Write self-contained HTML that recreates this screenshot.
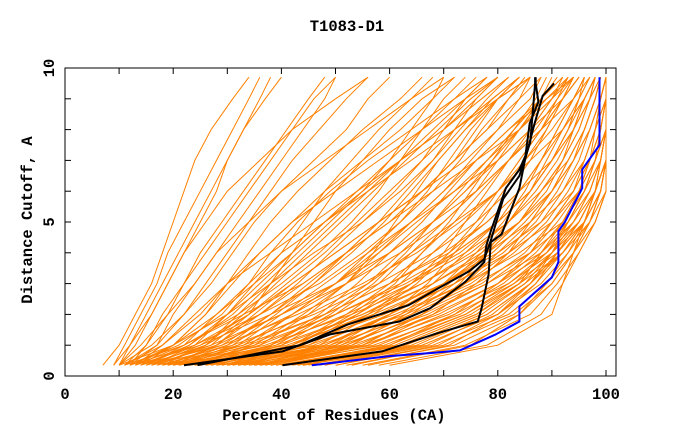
<!DOCTYPE html>
<html><head><meta charset="utf-8"><style>
body{margin:0;background:#fff}
svg{display:block}
text{font-family:"Liberation Mono",monospace;font-weight:bold;font-size:15.5px;fill:#000}
</style></head><body>
<svg id="chart" width="680" height="440" viewBox="0 0 680 440" xmlns="http://www.w3.org/2000/svg">
<text x="347" y="31" text-anchor="middle">T1083-D1</text>
<rect x="65" y="68" width="551" height="308" fill="none" stroke="#000" stroke-width="1"/>
<g id="series"></g>
<g id="axes"></g>
<text x="334" y="420" text-anchor="middle">Percent of Residues (CA)</text>
<text transform="translate(32,220) rotate(-90)" text-anchor="middle">Distance Cutoff, A</text>
</svg>
<script>
const yLevels=[0.35,1,2,3,4,5,6,7,8,9,9.7];
const orangeCurves=[
[7,10,13,16,18,20,22,24,27,31,34],[9,12,16,19,22,25,28,30,33,36,38],[10,14,19,24,28,32,36,40,44,48,50],
[10,16,22,27,31,35,40,46,52,56,60],[11,18,25,30,36,42,48,55,62,68,70],[12,20,28,35,42,48,55,62,70,77,82],
[13,22,32,40,47,53,58,62,66,70,74],[14,24,34,42,50,58,66,74,80,86,88],[15,26,36,44,52,60,68,76,84,90,92],
[16,28,40,50,58,65,72,78,84,88,90],[17,27,34,38,42,46,50,55,60,66,72],[18,30,42,52,60,68,76,82,88,92,95],
[19,32,45,56,64,72,80,86,92,96,98],[20,30,38,45,52,60,66,72,78,84,88],[21,34,48,60,70,78,84,90,94,97,99],
[22,36,50,62,72,80,86,90,93,95,96],[23,38,52,64,74,82,88,93,96,98,99],[24,35,44,52,58,64,70,76,82,88,92],
[25,40,55,66,76,84,90,94,97,99,100],[26,42,56,68,78,86,92,96,98,100,100],[27,44,58,70,80,88,94,97,99,100,100],
[28,40,50,58,64,70,76,82,88,94,97],[29,46,60,72,82,90,95,98,100,100,100],[30,48,62,74,84,92,96,99,100,100,100],
[31,45,56,64,70,74,78,82,86,90,93],[32,50,64,76,86,93,97,99,100,100,100],[33,52,66,78,88,94,98,100,100,100,100],
[34,50,60,68,74,80,84,88,92,96,98],[35,54,68,80,89,95,98,100,100,100,100],[36,56,70,82,90,96,99,100,100,100,100],
[37,55,66,74,80,86,90,94,96,98,99],[38,58,72,83,91,96,99,100,100,100,100],[40,60,74,84,92,97,100,100,100,100,100],
[42,62,76,85,92,96,98,99,100,100,100],[44,64,78,86,92,96,98,100,100,100,100],[46,66,80,88,93,97,99,100,100,100,100],
[48,68,82,89,94,97,99,100,100,100,100],[50,70,83,90,94,97,99,100,100,100,100],[52,72,84,90,94,98,100,100,100,100,100],
[55,74,86,91,95,98,100,100,100,100,100],[58,78,88,92,95,98,100,100,100,100,100],[60,80,90,92,94,96,98,100,100,100,100],
[12,17,20,24,28,34,40,48,56,64,70],[15,22,28,34,40,48,56,64,72,80,86],[18,26,32,38,44,50,56,62,68,74,78],
[22,32,40,48,56,64,72,80,86,92,95],[25,38,48,56,62,68,74,80,86,90,94],[28,42,54,64,72,80,86,90,94,97,98],
[32,48,60,70,78,84,88,92,94,96,98],[36,52,64,72,78,84,88,92,95,97,99],[11,15,18,22,26,30,34,38,42,46,50],
[14,20,26,31,36,42,50,58,66,74,80],[20,28,35,42,50,58,66,72,76,80,84],[24,34,42,50,57,64,70,75,80,84,86],
[30,44,54,62,68,74,80,85,90,94,96],[38,56,68,76,82,86,90,93,96,98,99],[45,60,72,80,86,90,94,96,98,99,100],
[16,24,30,36,42,48,54,60,66,72,76],[10,13,16,19,22,26,30,36,42,50,56],[13,18,24,30,38,46,54,62,70,76,80],
[10,20,30,38,46,55,62,68,72,76,80],[11,22,33,44,52,58,66,72,78,82,86],[12,24,36,47,55,62,68,73,77,82,85],
[13,25,38,50,60,68,74,79,83,87,89],[14,27,40,52,62,70,76,80,84,88,91],[15,29,43,55,65,73,80,84,88,91,93],
[16,31,46,58,68,76,82,86,89,92,94],[17,33,48,60,71,78,84,88,91,94,96],[18,35,50,63,73,80,86,90,93,95,97],
[19,37,53,66,75,82,87,91,94,96,98],[20,39,55,68,77,84,89,92,95,97,98],[21,41,57,70,79,85,90,93,96,98,99],
[22,43,59,72,81,87,91,94,97,99,100],[23,45,61,74,82,88,92,95,97,99,100],[24,47,63,75,83,89,93,96,98,99,100],
[26,49,65,77,85,90,94,97,98,100,100],[28,51,67,78,86,91,95,97,99,100,100],[30,53,69,80,87,92,95,98,99,100,100],
[32,55,71,81,88,93,96,98,100,100,100],[34,57,73,82,89,93,96,98,100,100,100],[36,59,74,83,89,94,97,99,100,100,100],
[39,61,75,84,90,94,97,99,100,100,100],[41,63,77,85,90,95,98,99,100,100,100],[43,65,78,86,91,95,98,100,100,100,100],
[47,67,79,86,91,95,98,100,100,100,100],[53,71,81,87,92,96,98,100,100,100,100],[56,75,84,89,93,96,99,100,100,100,100],
[12,21,29,34,38,43,49,56,64,72,78],[14,23,31,37,43,49,55,60,64,68,72],[16,25,34,41,48,54,60,66,72,79,84],
[18,29,38,46,53,59,64,69,74,79,84],[20,33,42,50,56,62,67,71,75,80,84],[23,36,45,52,57,61,65,69,74,80,86],
[26,39,49,57,63,68,73,78,83,88,92],[27,38,47,54,60,66,71,76,82,89,94],[29,43,53,61,66,71,75,79,84,89,93],
[33,47,57,65,71,76,80,84,88,92,95],[35,51,62,70,76,81,85,88,91,94,96],[37,53,63,71,77,82,86,89,92,95,97],
[19,28,36,43,49,55,61,66,70,74,78],[21,31,39,46,52,58,63,68,73,78,82],[17,26,33,39,45,51,57,63,69,75,80],
[15,23,30,35,40,44,48,53,58,64,68],[13,20,26,30,34,38,43,49,55,62,66],[11,17,22,26,30,34,38,42,47,52,56],
[9,11,14,17,19,22,25,28,31,34,36],[10,12,15,18,21,24,27,30,33,37,40],[12,15,19,22,25,29,33,37,41,45,48],
[44,66,80,87,91,96,98,100,100,100,100],[40,62,76,84,88,92,95,97,99,100,100],[50,69,80,86,90,93,96,98,99,100,100],
[35,55,66,73,78,82,86,90,93,96,98],[31,49,60,67,72,77,81,85,89,92,94],[25,42,52,60,66,72,77,82,87,91,94]
];
const black1X=[40.2,58.6,69,76.3,77,78.3,78.7,80.7,84,85,86.8,88.3,90.4];
const black1Y=[0.35,0.8,1.4,1.77,2.2,3.3,4.35,4.6,6.1,7.0,8.2,9.1,9.5];
const black2X=[22,40.2,49,61.8,67.5,74,77.5,77.9,78.7,81.5,84,85.1,85.9,87.5,87,87];
const black2Y=[0.35,0.8,1.35,1.77,2.2,3.06,3.7,4.25,4.7,6.1,6.7,7.15,8.2,8.9,9.5,9.7];
const black3X=[24.5,43.4,52.2,63.5,69,74.7,77.5,78.7,81,84,86,86.9,86.9];
const black3Y=[0.35,1.0,1.67,2.3,2.85,3.4,3.8,4.4,5.75,6.5,7.6,9.5,9.7];
const blueX=[45.6,60.2,68,73,79.5,84,84,86.8,90,91.2,91.2,92.4,95.6,95.6,98.8,98.8,98.8];
const blueY=[0.35,0.65,0.75,0.83,1.34,1.77,2.26,2.7,3.2,3.7,4.7,5.0,6.1,6.7,7.5,9.5,9.7];
const xTicks=[0,20,40,60,80,100];
const yTicks=[0,5,10];

const NS="http://www.w3.org/2000/svg";
const xs=v=>65+v*5.41;
const ys=v=>376-v*30.8;
const g=document.getElementById('series');
const ax=document.getElementById('axes');
function poly(xv,yv,color,w){
  const p=document.createElementNS(NS,'polyline');
  p.setAttribute('points',xv.map((x,i)=>xs(x).toFixed(1)+','+ys(yv[i]).toFixed(1)).join(' '));
  p.setAttribute('fill','none');p.setAttribute('stroke',color);p.setAttribute('stroke-width',w);
  return p;
}
orangeCurves.forEach((c,i)=>{
  const p=poly(c,yLevels,'#ff8000',1);
  
  
  g.appendChild(p);
});
[[black1X,black1Y],[black2X,black2Y],[black3X,black3Y]].forEach((b,i)=>{
  const p=poly(b[0],b[1],'#000',2);
  
  
  g.appendChild(p);
});
const bl=poly(blueX,blueY,'#0000ff',2);


g.appendChild(bl);

function line(x1,y1,x2,y2){const l=document.createElementNS(NS,'line');
 l.setAttribute('x1',x1);l.setAttribute('y1',y1);l.setAttribute('x2',x2);l.setAttribute('y2',y2);
 l.setAttribute('stroke','#000');ax.appendChild(l);return l;}
for(let v=0;v<=100;v+=10){const l=line(xs(v),376,xs(v),370);
 
 
 const t=line(xs(v),68,xs(v),74);
 
 }
for(let v=0;v<=10;v++){const l=line(65,ys(v),71,ys(v));
 
 
 const r=line(616,ys(v),610,ys(v));
 
 }
xTicks.forEach(v=>{const t=document.createElementNS(NS,'text');
 t.setAttribute('x',xs(v));t.setAttribute('y',399);t.setAttribute('text-anchor','middle');t.textContent=v;
 
 
 ax.appendChild(t);});
yTicks.forEach(v=>{const t=document.createElementNS(NS,'text');
 t.setAttribute('transform','translate(54,'+ys(v)+') rotate(-90)');t.setAttribute('text-anchor','middle');t.textContent=v;
 
 
 ax.appendChild(t);});
</script>
</body></html>
